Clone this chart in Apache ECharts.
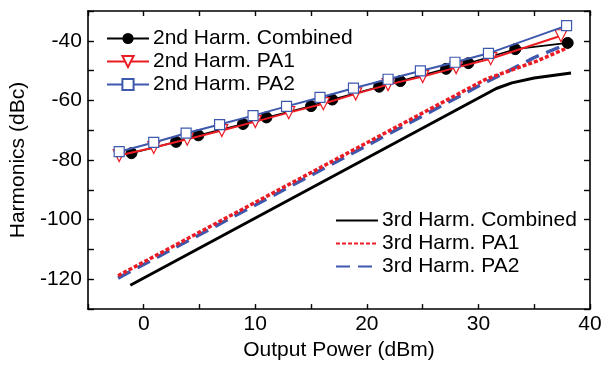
<!DOCTYPE html>
<html>
<head>
<meta charset="utf-8">
<script src="https://cdn.jsdelivr.net/npm/echarts@6/dist/echarts.min.js"></script>
<style>
html,body{margin:0;padding:0;background:#fff;}
#chart{width:616px;height:366px;}
</style>
</head>
<body>
<div id="chart"></div>
<script>
// ---- data ----
const seriesNames = [
  '2nd Harm. Combined', '2nd Harm. PA1', '2nd Harm. PA2',
  '3rd Harm. Combined', '3rd Harm. PA1', '3rd Harm. PA2'
];
const comb2X = [-1.1, 2.9, 4.9, 8.9, 11.0, 15.0, 16.9, 21.1, 23.0, 27.1, 29.1, 33.3, 38.0];
const comb2Y = [-77.7, -73.9, -71.7, -67.9, -65.7, -61.9, -59.7, -55.4, -53.5, -49.4, -47.5, -42.8, -40.7];
const pa1X = [-2.2, 0.9, 3.9, 7.0, 10.0, 13.0, 16.1, 19.0, 21.9, 25.0, 28.0, 31.1, 37.4];
const pa1Y = [-78.5, -75.8, -73.0, -70.1, -67.1, -64.1, -61.1, -57.8, -54.7, -52.0, -49.0, -46.0, -38.3];
const pa2X = [-2.2, 0.9, 3.8, 6.8, 9.8, 12.8, 15.8, 18.8, 21.9, 24.8, 27.9, 30.9, 37.9];
const pa2Y = [-77.2, -74.1, -71.0, -68.1, -65.1, -62.0, -59.0, -55.9, -52.9, -50.1, -47.2, -44.2, -34.9];
const comb3X = [-1.2, 31.6, 33.0, 35.0, 38.3];
const comb3Y = [-122.0, -56.0, -54.1, -52.5, -50.8];
const pa1_3X = [-2.3, 30.6, 32.5, 35.3, 38.0];
const pa1_3Y = [-118.8, -53.0, -50.4, -46.7, -42.3];
const pa2_3X = [-2.3, 30.6, 32.5, 35.0, 37.6];
const pa2_3Y = [-119.6, -54.0, -50.5, -45.6, -41.6];
const xTickLabels = [0, 10, 20, 30, 40];
const yTickLabels = [-40, -60, -80, -100, -120];

const pts = (xs, ys) => xs.map((x, i) => [x, ys[i]]);
const RED = '#ec1c24';
const BLUE = '#3d58ad';
const FONT = 'Liberation Sans, Arial, sans-serif';
const FS = 21;

const chart = echarts.init(document.getElementById('chart'), null, {renderer: 'canvas'});

const axisCommon = {
  axisLine: {show: true, onZero: false, lineStyle: {color: '#000', width: 1.6}},
  axisTick: {show: true, inside: true, length: 5, lineStyle: {color: '#000', width: 1.4}},
  splitLine: {show: false}
};

const option = {
  animation: false,
  backgroundColor: '#fff',
  textStyle: {fontFamily: FONT},
  grid: {left: 83, right: 26, top: 11, bottom: 49, containLabel: false},
  legend: [
    {
      data: seriesNames.slice(0, 3),
      orient: 'vertical', left: 106, top: 28, padding: 0,
      itemWidth: 42, itemHeight: 14, itemGap: 2,
      textStyle: {fontFamily: FONT, fontSize: FS, color: '#000', padding: [0, 0, 0, -1]}
    },
    {
      data: seriesNames.slice(3),
      orient: 'vertical', left: 335, top: 210, padding: 0,
      itemWidth: 42, itemHeight: 14, itemGap: 2,
      itemStyle: {opacity: 0},
      textStyle: {fontFamily: FONT, fontSize: FS, color: '#000', padding: [0, 0, 0, -1]}
    }
  ],
  xAxis: [
    Object.assign({}, axisCommon, {
      type: 'value', min: -5, max: 40, interval: 5, position: 'bottom',
      name: 'Output Power (dBm)', nameLocation: 'middle', nameGap: 24,
      nameTextStyle: {fontFamily: FONT, fontSize: FS, color: '#000'},
      axisLabel: {fontFamily: FONT, fontSize: FS, color: '#000', margin: 5,
        formatter: v => xTickLabels.indexOf(v) >= 0 ? String(v) : ''}
    }),
    Object.assign({}, axisCommon, {
      type: 'value', min: -5, max: 40, interval: 5, position: 'top',
      axisLabel: {show: false}
    })
  ],
  yAxis: [
    Object.assign({}, axisCommon, {
      type: 'value', min: -130, max: -30, interval: 10, position: 'left',
      name: 'Harmonics (dBc)', nameLocation: 'middle', nameGap: 52,
      nameTextStyle: {fontFamily: FONT, fontSize: FS, color: '#000'},
      axisTick: {show: true, inside: true, length: 6, lineStyle: {color: '#000', width: 1.4}},
      axisLabel: {fontFamily: FONT, fontSize: FS, color: '#000', margin: 6,
        formatter: v => yTickLabels.indexOf(v) >= 0 ? String(v) : ''}
    }),
    Object.assign({}, axisCommon, {
      type: 'value', min: -130, max: -30, interval: 10, position: 'right',
      axisTick: {show: true, inside: true, length: 6, lineStyle: {color: '#000', width: 1.4}},
      axisLabel: {show: false}
    })
  ],
  series: [
    {
      name: seriesNames[3], type: 'line', data: pts(comb3X, comb3Y),
      symbol: 'none', lineStyle: {color: '#000', width: 3}, itemStyle: {color: '#000'}, z: 2
    },
    {
      name: seriesNames[5], type: 'line', data: pts(pa2_3X, pa2_3Y),
      symbol: 'none', lineStyle: {color: BLUE, width: 3.5, type: [14, 8]}, itemStyle: {color: BLUE}, z: 2
    },
    {
      name: seriesNames[4], type: 'line', data: pts(pa1_3X, pa1_3Y),
      symbol: 'none', lineStyle: {color: RED, width: 3.5, type: [4, 2]}, itemStyle: {color: RED}, z: 3
    },
    {
      name: seriesNames[0], type: 'line', data: pts(comb2X, comb2Y),
      symbol: 'circle', symbolSize: 11,
      lineStyle: {color: '#000', width: 1.6},
      itemStyle: {color: '#000', borderColor: '#000'}, z: 4
    },
    {
      name: seriesNames[1], type: 'line', data: pts(pa1X, pa1Y),
      symbol: 'triangle', symbolRotate: 180, symbolSize: 12,
      lineStyle: {color: RED, width: 2},
      itemStyle: {color: '#fff', borderColor: RED, borderWidth: 1.2}, z: 5
    },
    {
      name: seriesNames[2], type: 'line', data: pts(pa2X, pa2Y),
      symbol: 'rect', symbolSize: 10,
      lineStyle: {color: BLUE, width: 2},
      itemStyle: {color: '#fff', borderColor: BLUE, borderWidth: 1.2}, z: 6
    }
  ]
};
chart.setOption(option);
</script>
</body>
</html>
